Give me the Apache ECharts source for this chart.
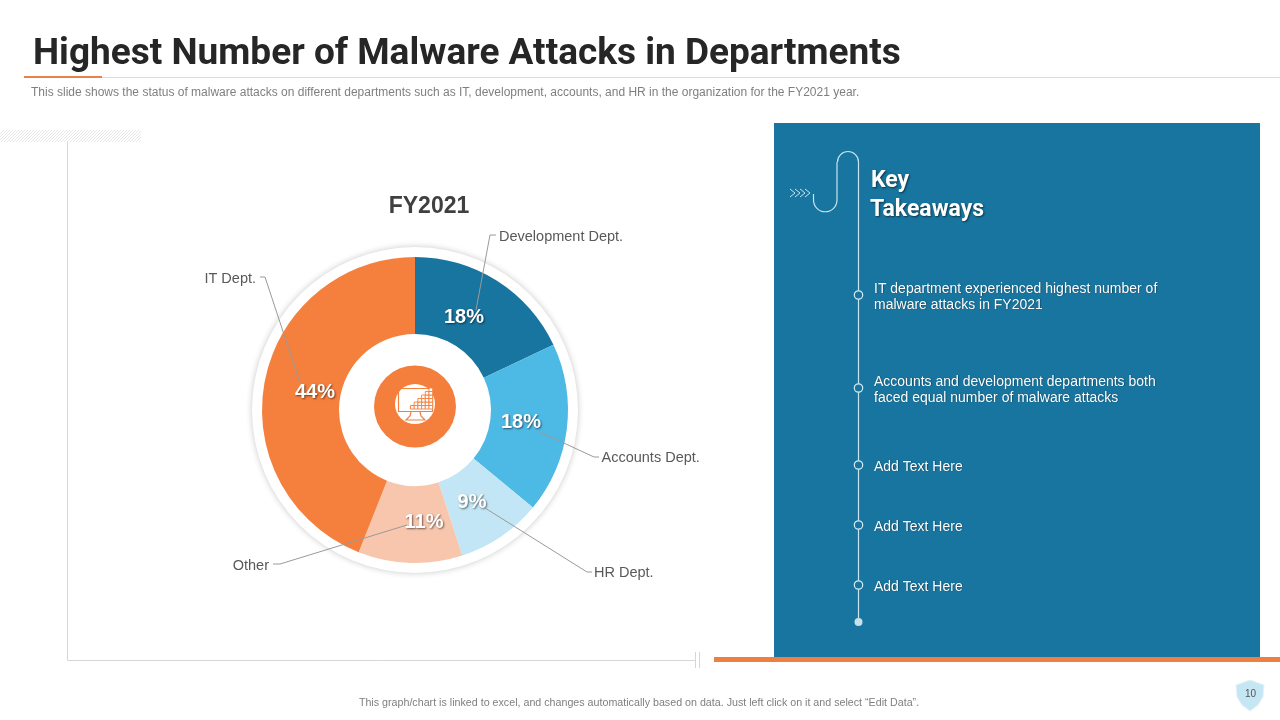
<!DOCTYPE html>
<html><head><meta charset="utf-8">
<style>html,body{margin:0;padding:0;background:#fff}#c{width:1280px;height:720px}</style>
<script src="https://cdn.jsdelivr.net/npm/echarts@6/dist/echarts.min.js"></script>
</head><body><div id="c"></div>
<script>
const departments = ['Development Dept.','Accounts Dept.','HR Dept.','Other','IT Dept.'];
const attackShare = [18,18,9,11,44];
const takeaways = [
  'IT department experienced highest number of\nmalware attacks in FY2021',
  'Accounts and development departments both\nfaced equal number of malware attacks',
  'Add Text Here','Add Text Here','Add Text Here'
];
const sliceColors = ['#17759F','#4DBAE6','#C2E6F5','#F8C6AC','#F57F3D'];
const percentPos = [[464,317],[521,422],[472,502],[424,522],[315,392]];
const namePos = [[499,236.5,'left'],[601.5,458,'left'],[594,573,'left'],[269,566,'right'],[256,279,'right']];
const leaderPts = [
  [[476,310],[490,235],[496,235]],
  [[540,432],[594,457],[599,457]],
  [[485,508],[587,572],[592,572]],
  [[407,525],[280,564],[273,564]],
  [[300,383],[265,277],[260,277]]
];
const CX=415, CY=410, panelColor='#17759F', FONT='Liberation Sans';
const g=[];
const line=(x1,y1,x2,y2,c,w,z)=>g.push({type:'line',silent:true,z:z||0,shape:{x1,y1,x2,y2},style:{stroke:c,lineWidth:w||1}});
const rect=(x,y,w,h,c)=>g.push({type:'rect',silent:true,shape:{x,y,width:w,height:h},style:{fill:c}});
const text=(x,y,t,o)=>g.push({type:'text',silent:true,z:5,x,y,style:Object.assign({text:t,font:'14px "'+FONT+'"',fill:'#fff',verticalAlign:'middle',align:'left'},o)});

// header
line(24,77.5,1280,77.5,'#DDDDDD',1);
rect(24,76,78,2,'#E8824A');
text(31,92.5,'This slide shows the status of malware attacks on different departments such as IT, development, accounts, and HR in the organization for the FY2021 year.',{font:'12px "'+FONT+'"',fill:'#7F7F7F'});
// hatch band
for(let x=-8;x<141;x+=3) line(Math.max(x,0),142-(Math.max(x,0)-x),Math.min(x+12,141),130+(x+12-Math.min(x+12,141)),'#E8E8E8',1);
// frame
line(67.5,142,67.5,660.5,'#D6D6D6',1);
line(67.5,660.5,695,660.5,'#D6D6D6',1);
line(695.5,652,695.5,668,'#D6D6D6',1);
line(699.5,652,699.5,668,'#D6D6D6',1);
// panel
rect(774,123,486,534,panelColor);
rect(714,657,566,5,'#EE7F42');
// pie backing
g.push({type:'circle',silent:true,z:0,shape:{cx:CX,cy:CY,r:163},style:{fill:'#fff',shadowBlur:6,shadowColor:'rgba(0,0,0,0.22)'}});
// centre badge
const badge='#F47F3C';
g.push({type:'circle',silent:true,z:10,shape:{cx:CX,cy:406.5,r:41},style:{fill:badge}});
g.push({type:'circle',silent:true,z:11,shape:{cx:CX,cy:404,r:20},style:{fill:'#fff'}});
g.push({type:'rect',silent:true,z:12,shape:{x:398.5,y:388.5,width:34,height:23},style:{fill:'none',stroke:badge,lineWidth:1.2}});
g.push({type:'polyline',silent:true,z:12,shape:{points:[[411,412],[410,416],[406,420],[425,420],[421,416],[420,412]]},style:{fill:'none',stroke:badge,lineWidth:1.2}});
for(let c=0;c<6;c++){for(let r=0;r<=c;r++){
  g.push({type:'rect',silent:true,z:13,shape:{x:410.5+c*3.7,y:405.5-r*3.5,width:3.7,height:3.5},style:{fill:'#fff',stroke:badge,lineWidth:0.9}});
}}
// panel ornament
const orn='#C9E4EE';
line(813.5,194,813.5,200,orn,1.2,3);
g.push({type:'arc',silent:true,z:3,shape:{cx:825.25,cy:200,r:11.75,startAngle:0,endAngle:Math.PI,clockwise:true},style:{fill:'none',stroke:orn,lineWidth:1.2}});
line(837,200,837,162,orn,1.2,3);
g.push({type:'arc',silent:true,z:3,shape:{cx:848,cy:162,r:10.5,startAngle:Math.PI,endAngle:2*Math.PI,clockwise:true},style:{fill:'none',stroke:orn,lineWidth:1.2}});
line(858.5,162,858.5,622,orn,1.2,3);
[0,1,2,3].forEach(i=>g.push({type:'polyline',silent:true,z:3,shape:{points:[[790+i*5,189],[795+i*5,193],[790+i*5,197]]},style:{fill:'none',stroke:orn,lineWidth:1}}));
const shadow={textShadowColor:'rgba(0,0,0,0.55)',textShadowBlur:2,textShadowOffsetX:1,textShadowOffsetY:1};
text(871,181,'Key',Object.assign({font:'bold 23px Roboto'},shadow));
text(870,210,'Takeaways',Object.assign({font:'bold 23px Roboto'},shadow));
const dotY=[295,388,465,525,585], textY=[297,390,467,527,587];
takeaways.forEach((t,i)=>{
  g.push({type:'circle',silent:true,z:4,shape:{cx:858.5,cy:dotY[i],r:4.2},style:{fill:panelColor,stroke:'#D5ECF4',lineWidth:1.2}});
  text(874,textY[i],t,Object.assign({font:'14px "'+FONT+'"',lineHeight:16},{textShadowColor:'rgba(0,0,0,0.45)',textShadowBlur:1,textShadowOffsetX:0.6,textShadowOffsetY:0.6}));
});
g.push({type:'circle',silent:true,z:4,shape:{cx:858.5,cy:622,r:4},style:{fill:'#C7E0EB'}});
// footer
text(639,703.5,'This graph/chart is linked to excel, and changes automatically based on data. Just left click on it and select “Edit Data”.',{font:'10.7px "'+FONT+'"',fill:'#7F7F7F',align:'center'});
g.push({type:'polygon',silent:true,shape:{points:[[1250,680],[1264,685],[1263,697],[1258,705],[1250,711],[1242,705],[1237,697],[1236,685]]},style:{fill:'#C5E6F3',stroke:'#E4F3F9',lineWidth:1}});
text(1250.5,694,'10',{font:'10px "'+FONT+'"',fill:'#555',align:'center'});

const data=departments.map((n,i)=>({name:n,value:attackShare[i],itemStyle:{color:sliceColors[i]}}));
const chart=echarts.init(document.getElementById('c'),null,{renderer:'canvas',width:1280,height:720});
chart.setOption({
  animation:false,backgroundColor:'#fff',
  title:[
    {text:'Highest Number of Malware Attacks in Departments',left:33,top:36,textStyle:{fontFamily:'Roboto',fontWeight:'bold',fontSize:37,color:'#262626'},padding:0},
    {text:'FY2021',left:429,top:195,textAlign:'center',textStyle:{fontFamily:FONT,fontWeight:'bold',fontSize:23,color:'#404040'},padding:0}
  ],
  graphic:{elements:g},
  series:[
    {type:'pie',name:'names',silent:true,z:3,center:[CX,CY],radius:[76,153],startAngle:90,
     data:data.map(d=>({name:d.name,value:d.value,itemStyle:{color:'rgba(0,0,0,0)'}})),
     emphasis:{disabled:true},
     label:{show:true,position:'outside',formatter:'{b}',fontFamily:FONT,fontSize:14.5,color:'#595959'},
     labelLine:{show:true,lineStyle:{color:'#9A9A9A',width:1}},
     labelLayout:p=>{const n=namePos[p.dataIndex];return {x:n[0],y:n[1],align:n[2],verticalAlign:'middle',labelLinePoints:leaderPts[p.dataIndex]};}
    },
    {type:'pie',name:'FY2021',silent:true,z:2,center:[CX,CY],radius:[76,153],startAngle:90,data:data,
     emphasis:{disabled:true},
     label:{show:true,position:'inside',formatter:'{d}%',fontFamily:FONT,fontWeight:'bold',fontSize:20,color:'#fff',
       textShadowColor:'rgba(0,0,0,0.55)',textShadowBlur:2,textShadowOffsetX:1,textShadowOffsetY:1},
     labelLine:{show:false},
     labelLayout:p=>{const n=percentPos[p.dataIndex];return {x:n[0],y:n[1],align:'center',verticalAlign:'middle'};}
    }
  ]
});
</script></body></html>
